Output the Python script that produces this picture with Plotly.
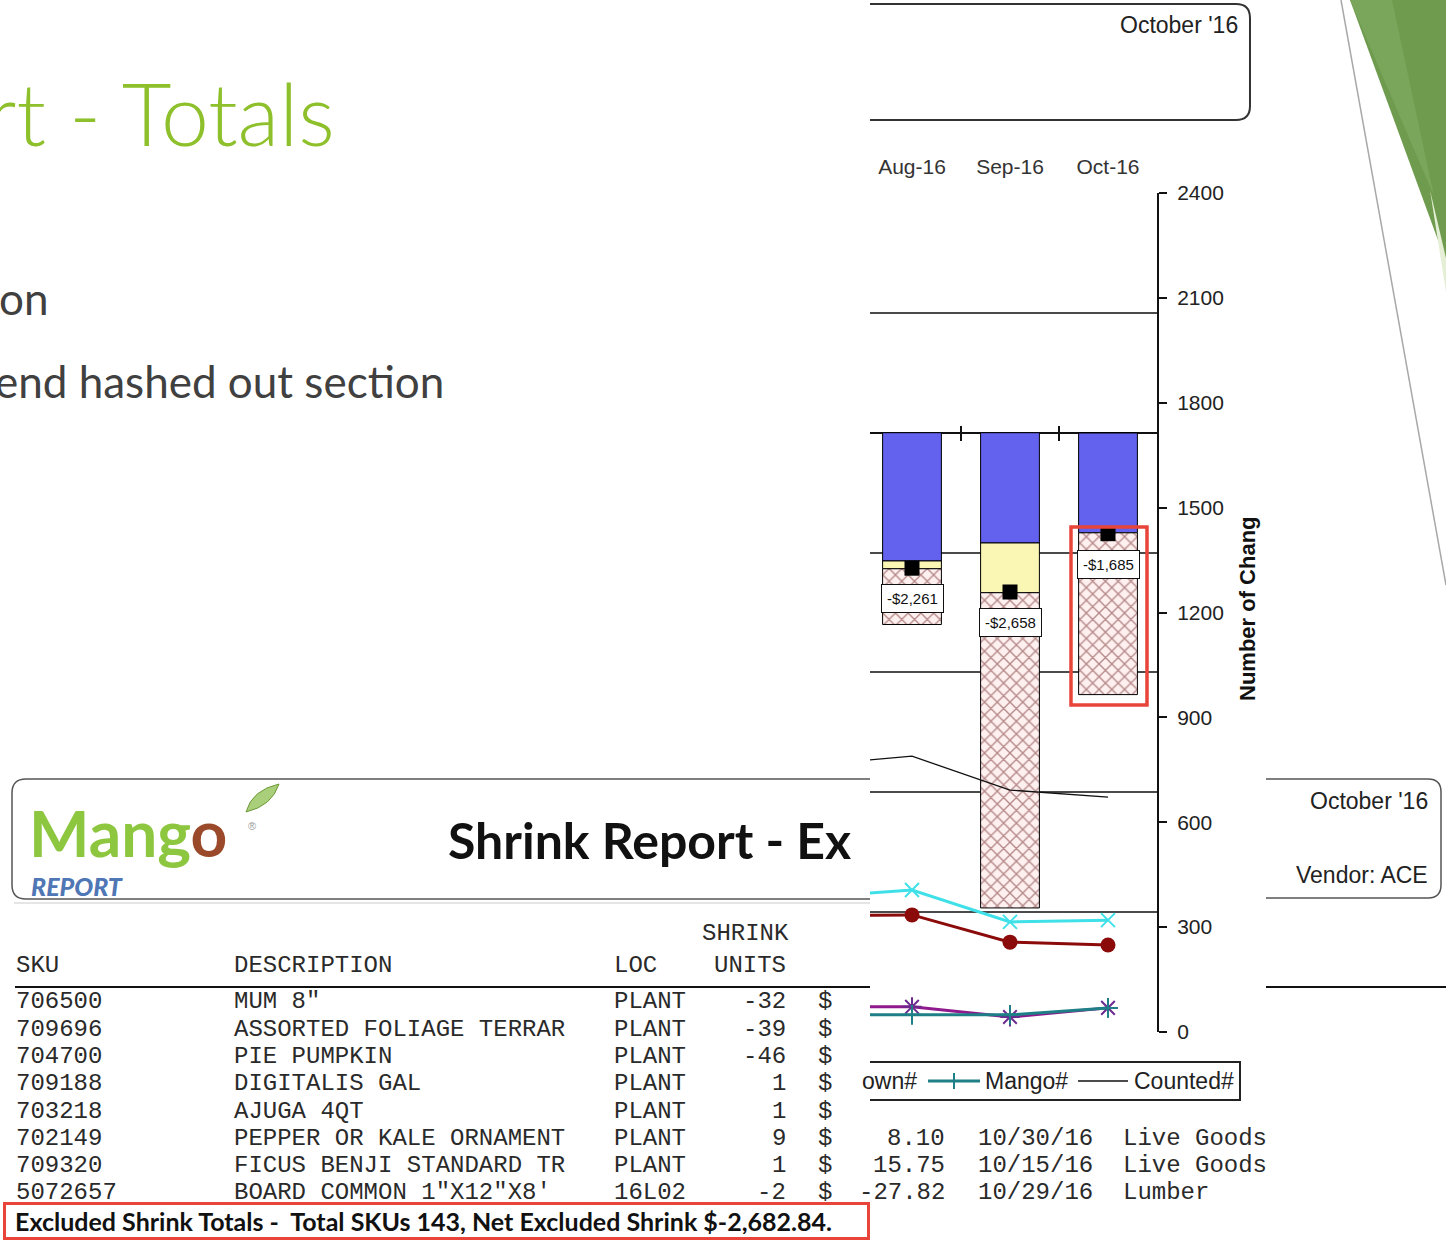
import plotly.graph_objects as go

# ---------------- data ----------------
months = ["Jul-16", "Aug-16", "Sep-16", "Oct-16"]
bar_months = ["Aug-16", "Sep-16", "Oct-16"]
shrink_included = [-2140, -1840, -1670]      # blue segment ($)
shrink_pending = [-130, -830, 0]             # yellow segment ($)
shrink_excluded = [-930, -5260, -2700]       # hatched segment ($)
net_shrink = [-2261, -2658, -1685]           # black square markers ($)

received_cnt = [386, 406, 315, 320]          # cyan x
sold_cnt = [332, 335, 257, 249]              # dark red circle
markdown_cnt = [72, 72, 43, 69]              # purple asterisk
mango_cnt = [49, 49, 49, 69]                 # teal cross
counted_cnt = [764, 789, 692, 672]           # black thin line

y2_ticks = [0, 300, 600, 900, 1200, 1500, 1800, 2100, 2400]

skus = ["706500", "709696", "704700", "709188", "703218", "702149", "709320", "5072657"]
descs = ['MUM 8"', "ASSORTED FOLIAGE TERRAR", "PIE PUMPKIN", "DIGITALIS GAL", "AJUGA 4QT",
         "PEPPER OR KALE ORNAMENT", "FICUS BENJI STANDARD TR", "BOARD COMMON 1\"X12\"X8'"]
locs = ["PLANT"] * 7 + ["16L02"]
units = [-32, -39, -46, 1, 1, 9, 1, -2]
amounts_tail = ["8.10", "15.75", "-27.82"]
dates_tail = ["10/30/16", "10/15/16", "10/29/16"]
cats_tail = ["Live Goods", "Live Goods", "Lumber"]

# ---------------- helpers ----------------
W, H = 1446, 1241
def X(p): return p / W
def Y(p): return 1 - p / H

def P(*cmds):
    out = []
    for c in cmds:
        op, nums = c[0], c[1:]
        pts = [f"{X(nums[i]):.5f},{Y(nums[i+1]):.5f}" for i in range(0, len(nums), 2)]
        out.append(op + " ".join(pts))
    return " ".join(out)

def txt(s, x, y, size, color="#222", family="Liberation Sans", xanchor="left",
        yanchor="middle", weight="normal", style="normal", **kw):
    return dict(text=s, x=X(x), y=Y(y), xref="paper", yref="paper", showarrow=False,
                xanchor=xanchor, yanchor=yanchor,
                font=dict(size=size, color=color, family=family, weight=weight, style=style), **kw)

xi = {m: i for i, m in enumerate(months)}
x_line = [xi[m] for m in months]
x_bar = [xi[m] for m in bar_months]

fig = go.Figure()

# bars (left $ axis)
fig.add_bar(x=x_bar, y=shrink_included, width=0.6, yaxis="y",
            marker=dict(color="#6262EE", line=dict(color="black", width=1)))
fig.add_bar(x=x_bar, y=shrink_pending, width=0.6, yaxis="y",
            marker=dict(color="#FAF6B4", line=dict(color="black", width=1)))
fig.add_bar(x=x_bar, y=shrink_excluded, width=0.6, yaxis="y",
            marker=dict(color="#FFF0F0", line=dict(color="black", width=1),
                        pattern=dict(shape="x", fgcolor="#6A2020", bgcolor="#FFF0F0",
                                     size=9, solidity=0.28)))
fig.add_scatter(x=x_bar, y=net_shrink, mode="markers", yaxis="y",
                marker=dict(symbol="square", size=15, color="black"))

# lines (right count axis)
fig.add_scatter(x=x_line, y=counted_cnt, yaxis="y2", mode="lines",
                line=dict(color="#111", width=1.3))
fig.add_scatter(x=x_line, y=received_cnt, yaxis="y2", mode="lines+markers",
                line=dict(color="#40E0E8", width=3),
                marker=dict(symbol="x-thin", size=14, line=dict(color="#40E0E8", width=2)))
fig.add_scatter(x=x_line, y=sold_cnt, yaxis="y2", mode="lines+markers",
                line=dict(color="#8B0A0A", width=3),
                marker=dict(symbol="circle", size=15, color="#8B0A0A"))
fig.add_scatter(x=x_line, y=markdown_cnt, yaxis="y2", mode="lines+markers",
                line=dict(color="#8E1A8E", width=3),
                marker=dict(symbol="asterisk", size=16, line=dict(color="#6A2A8E", width=2)))
fig.add_scatter(x=x_line, y=mango_cnt, yaxis="y2", mode="lines+markers",
                line=dict(color="#1F7F86", width=3),
                marker=dict(symbol="cross-thin", size=14, line=dict(color="#1F7F86", width=2)))

# ---------------- shapes ----------------
shapes = []
def sp(path, color="#333", width=1.5, fill=None, layer="below"):
    d = dict(type="path", path=path, xref="paper", yref="paper", layer=layer,
             line=dict(color=color, width=width))
    if fill:
        d["fillcolor"] = fill
    return d

# slide decoration
shapes.append(sp(P(("M", 1350, 0), ("L", 1446, 0), ("L", 1446, 262), ("Z",)), color="rgba(0,0,0,0)", width=0, fill="#6E9B4D"))
shapes.append(sp(P(("M", 1350, 0), ("L", 1392, 0), ("L", 1434, 196), ("Z",)), color="rgba(0,0,0,0)", width=0, fill="#79A65B"))
shapes.append(sp(P(("M", 1430, 190), ("L", 1446, 258), ("L", 1446, 292), ("Z",)), color="rgba(0,0,0,0)", width=0, fill="#E4EFD5"))
shapes.append(sp(P(("M", 1341, 0), ("L", 1446, 585)), color="#A8A8A8", width=1.5))

# chart's header box (top)
shapes.append(sp(P(("M", 870, 4), ("L", 1236, 4), ("Q", 1250, 4, 1250, 18), ("L", 1250, 106),
                   ("Q", 1250, 120, 1236, 120), ("L", 870, 120)), color="#333", width=2))

# report header boxes
shapes.append(sp(P(("M", 870, 779), ("L", 26, 779), ("Q", 12, 779, 12, 793), ("L", 12, 885),
                   ("Q", 12, 899, 26, 899), ("L", 870, 899)), color="#555", width=1.5))
shapes.append(sp(P(("M", 1266, 779), ("L", 1428, 779), ("Q", 1441, 779, 1441, 792), ("L", 1441, 885),
                   ("Q", 1441, 898, 1428, 898), ("L", 1266, 898)), color="#555", width=1.5))
shapes.append(sp(P(("M", 14, 903), ("L", 870, 903)), color="#DDD", width=1.5))
# table header rules
shapes.append(sp(P(("M", 15, 987), ("L", 870, 987)), color="#111", width=2))
shapes.append(sp(P(("M", 1266, 987), ("L", 1446, 987)), color="#111", width=2))

# leaf of logo
shapes.append(sp(P(("M", 246, 812), ("Q", 252, 790, 279, 784), ("Q", 272, 806, 246, 812), ("Z",)),
                 color="#6F9A3A", width=1, fill="#A9CF7A"))

# category ticks on zero line
for xv in (1.5, 2.5):
    shapes.append(dict(type="line", xref="x", yref="paper", x0=xv, x1=xv, y0=Y(441), y1=Y(426),
                       line=dict(color="#111", width=2), layer="above"))

# legend box (cut at left)
shapes.append(sp(P(("M", 870, 1062), ("L", 1240, 1062), ("L", 1240, 1100), ("L", 870, 1100)),
                 color="#222", width=2))
shapes.append(sp(P(("M", 928, 1081), ("L", 980, 1081)), color="#1F7F86", width=3))
shapes.append(sp(P(("M", 954, 1073), ("L", 954, 1089)), color="#1F7F86", width=2))
shapes.append(sp(P(("M", 1078, 1081), ("L", 1128, 1081)), color="#111", width=1.5))

# red highlight around Oct bar
shapes.append(sp(P(("M", 1071, 527), ("L", 1147, 527), ("L", 1147, 705), ("L", 1071, 705), ("Z",)),
                 color="#E8443A", width=3.5, layer="above"))

# ---------------- annotations ----------------
ann = []
# slide text
ann.append(txt("rt - Totals", 337, 112, 86, color="#8DC02A", family="Lato", xanchor="right", weight=300))
ann.append(txt("on", 51, 298, 44, color="#404040", family="Lato", xanchor="right"))
ann.append(txt("end hashed out section", 446, 381, 44, color="#404040", family="Lato", xanchor="right"))

# report header
ann.append(txt("Mang<span style='color:#9A4A2A'>o</span>", 27, 832, 64, color="#8DC63F",
               family="Lato", weight="bold"))
ann.append(txt("®", 246, 826, 11, color="#999"))
ann.append(txt("REPORT", 29, 886, 25, color="#4F76B5", family="Lato", weight=900, style="italic"))
ann.append(txt("Shrink Report - Ex", 446, 840, 50, color="#111", family="Lato", weight="bold"))
ann.append(txt("October '16", 1430, 801, 23, color="#222", xanchor="right"))
ann.append(txt("Vendor: ACE", 1430, 875, 23, color="#222", xanchor="right"))

# table
mono = "Liberation Mono"
tc = "#2A2A2A"
ann.append(txt("SHRINK", 700, 933, 24, tc, mono))
ann.append(txt("SKU", 14, 965, 24, tc, mono))
ann.append(txt("DESCRIPTION", 232, 965, 24, tc, mono))
ann.append(txt("LOC", 612, 965, 24, tc, mono))
ann.append(txt("UNITS", 788, 965, 24, tc, mono, xanchor="right"))
row_y = [1001, 1029, 1056, 1083, 1111, 1138, 1165, 1192]
for i, yy in enumerate(row_y):
    ann.append(txt(skus[i], 14, yy, 24, tc, mono))
    ann.append(txt(descs[i], 232, yy, 24, tc, mono))
    ann.append(txt(locs[i], 612, yy, 24, tc, mono))
    ann.append(txt(str(units[i]), 788, yy, 24, tc, mono, xanchor="right"))
    ann.append(txt("$", 816, yy, 24, tc, mono))
for j in range(3):
    yy = row_y[5 + j]
    ann.append(txt(amounts_tail[j], 947, yy, 24, tc, mono, xanchor="right"))
    ann.append(txt(dates_tail[j], 976, yy, 24, tc, mono))
    ann.append(txt(cats_tail[j], 1121, yy, 24, tc, mono))

# totals banner (covers lower part of last row)
ann.append(dict(text="&nbsp;Excluded Shrink Totals -  Total SKUs 143, Net Excluded Shrink $-2,682.84.",
                x=X(3), y=Y(1202), xref="paper", yref="paper", showarrow=False,
                xanchor="left", yanchor="top", align="left", width=855, height=26,
                bgcolor="white", bordercolor="#E8443A", borderwidth=3, borderpad=3,
                font=dict(family="Lato", size=25, color="#111", weight="bold")))

# chart texts
ann.append(txt("October '16", 1240, 25, 23, color="#222", xanchor="right"))
ann.append(txt("Number of Chang", 1247, 609, 22, color="#111", xanchor="center", weight="bold",
               textangle=-90))
ann.append(txt("own#", 919, 1081, 23, color="#222", xanchor="right"))
ann.append(txt("Mango#", 983, 1081, 23, color="#222"))
ann.append(txt("Counted#", 1132, 1081, 23, color="#222"))

for xv, v in zip(x_bar, net_shrink):
    ann.append(dict(text=f"-${abs(v):,}", x=xv, y=v, xref="x", yref="y", showarrow=False,
                    xanchor="center", yanchor="top", yshift=-16, bgcolor="white",
                    bordercolor="#111", borderwidth=1, borderpad=5,
                    font=dict(family="Liberation Sans", size=15, color="#111")))

fig.update_layout(
    width=W, height=H, autosize=False, margin=dict(l=0, r=0, t=0, b=0, pad=0, autoexpand=False),
    paper_bgcolor="white", plot_bgcolor="white", showlegend=False, barmode="relative",
    bargap=0.4,
    xaxis=dict(domain=[X(870), X(1157)], range=[(870 - 814) / 98, (1157 - 814) / 98],
               tickvals=x_line, ticktext=months, side="top", showgrid=False, zeroline=False,
               showline=False, ticks="", ticklabelstandoff=14, automargin=False,
               tickfont=dict(family="Liberation Sans", size=21, color="#333")),
    yaxis=dict(domain=[Y(1032), Y(193)], range=[-10000, 4000], dtick=2000, showgrid=True,
               gridcolor="#4a4a4a", gridwidth=1.5, zeroline=True, zerolinecolor="#111",
               zerolinewidth=2, showticklabels=False, ticks="", showline=False, automargin=False),
    yaxis2=dict(overlaying="y", side="right", anchor="x", range=[0, 2400], tickvals=y2_ticks,
                showline=True, linecolor="#111", linewidth=2, ticks="outside", ticklen=8,
                tickwidth=1.5, tickcolor="#111", showgrid=False, zeroline=False,
                ticklabelstandoff=6, automargin=False,
                tickfont=dict(family="Liberation Sans", size=21, color="#222")),
    shapes=shapes, annotations=ann,
)

fig.write_html("out.html", config={"responsive": False, "displayModeBar": False},
               post_script="document.body.style.margin='0';document.body.style.padding='0';")
